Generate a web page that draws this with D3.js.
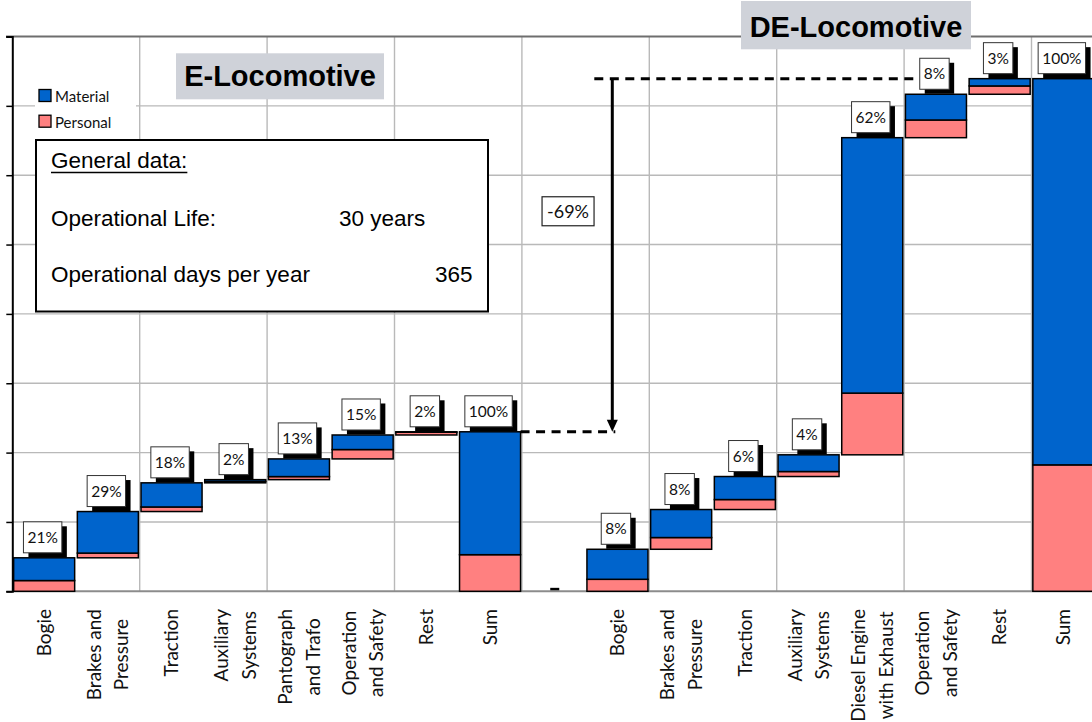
<!DOCTYPE html>
<html>
<head>
<meta charset="utf-8">
<script src="https://cdn.jsdelivr.net/npm/d3@7"></script>
<style>
  html, body { margin: 0; padding: 0; background: #ffffff; }
  svg { display: block; }
</style>
</head>
<body>
<svg id="chart" width="1092" height="722"></svg>
<script>
// ---- Data ---------------------------------------------------------------
const eCategories = ["Bogie", "Brakes and\nPressure", "Traction", "Auxiliary\nSystems",
                     "Pantograph\nand Trafo", "Operation\nand Safety", "Rest"];
const eMaterial   = [3.28, 5.99, 3.48, 0.26, 2.55, 2.10, 0.06];
const ePersonal   = [1.55, 0.68, 0.66, 0.20, 0.44, 1.35, 0.40];

const deCategories = ["Bogie", "Brakes and\nPressure", "Traction", "Auxiliary\nSystems",
                      "Diesel Engine\nwith Exhaust", "Operation\nand Safety", "Rest"];
const deMaterial   = [4.33, 4.04, 3.32, 2.41, 36.83, 3.71, 1.05];
const dePersonal   = [1.73, 1.69, 1.44, 0.72, 8.90, 2.55, 1.20];

const sumLabel    = "Sum";
const seriesNames = ["Material", "Personal"];
const seriesColors = ["#0064CC", "#FF8080"];
const yTicks      = [0, 10, 20, 30, 40, 50, 60, 70, 80];
const gapMarker   = [0.5];

const titleE  = "E-Locomotive";
const titleDE = "DE-Locomotive";
const generalTitle = "General data:";
const generalRows  = [["Operational Life:", "30 years"], ["Operational days per year", "365"]];

// ---- Layout -------------------------------------------------------------
const svg = d3.select("#chart");
const plotLeft = 12.3, plotTop = 36.5, plotBottom = 591.3, catStep = 63.7;
const uiFont = "Lato, 'Open Sans', sans-serif";
const boxFont = "'Liberation Sans', Arial, sans-serif";

const keys = [
  ...eCategories.map((c, i) => "E" + i), "ESum", "gap",
  ...deCategories.map((c, i) => "D" + i), "DSum"
];
const x = d3.scaleBand()
  .domain(keys)
  .range([plotLeft, plotLeft + keys.length * catStep])
  .paddingInner(0.042)
  .paddingOuter(0.021);
const y = d3.scaleLinear().domain([0, 80]).range([plotBottom, plotTop]);
const step = x.step();
const boundary = k => x.range()[0] + step * k;
const center = key => x(key) + x.bandwidth() / 2;

// Waterfall rows: each component floats on the running total
function waterfall(prefix, cats, mat, pers) {
  const total = d3.sum(mat) + d3.sum(pers);
  let base = 0;
  const rows = cats.map((c, i) => {
    const r = { key: prefix + i, label: c, base, mat: mat[i], pers: pers[i],
                pct: Math.round(100 * (mat[i] + pers[i]) / total) + "%" };
    base += mat[i] + pers[i];
    return r;
  });
  rows.push({ key: prefix + "Sum", label: sumLabel, base: 0,
              mat: d3.sum(mat), pers: d3.sum(pers), pct: "100%" });
  return { rows, total };
}
const E  = waterfall("E", eCategories, eMaterial, ePersonal);
const DE = waterfall("D", deCategories, deMaterial, dePersonal);
const allRows = [...E.rows, ...DE.rows];

// ---- Grid ---------------------------------------------------------------
const grid = svg.append("g");
grid.selectAll("line.h").data(yTicks.filter(v => v > 0 && v < 80)).join("line")
  .attr("x1", plotLeft).attr("x2", 1092)
  .attr("y1", d => y(d)).attr("y2", d => y(d))
  .attr("stroke", "#b9b9b9").attr("stroke-width", 1.4);
grid.selectAll("line.v").data(d3.range(2, keys.length, 2)).join("line")
  .attr("x1", d => boundary(d)).attr("x2", d => boundary(d))
  .attr("y1", plotTop).attr("y2", plotBottom)
  .attr("stroke", "#b9b9b9").attr("stroke-width", 1.4);

// plot frame: top edge, bottom axis, left axis with ticks
svg.append("line").attr("x1", 6).attr("x2", 1092).attr("y1", y(80)).attr("y2", y(80))
  .attr("stroke", "#6e6e6e").attr("stroke-width", 2);
svg.append("line").attr("x1", plotLeft).attr("x2", 1092).attr("y1", y(0)).attr("y2", y(0))
  .attr("stroke", "#8c8c8c").attr("stroke-width", 2);
const yAxis = d3.axisLeft(y).tickValues(yTicks).tickSize(6).tickFormat("");
const yAx = svg.append("g").attr("transform", `translate(${plotLeft},0)`).call(yAxis);
yAx.select(".domain").attr("stroke", "#000").attr("stroke-width", 2);
yAx.selectAll(".tick line").attr("stroke", "#000").attr("stroke-width", 1.5);

// ---- Bars ---------------------------------------------------------------
const bars = svg.append("g");
allRows.forEach(r => {
  const segs = [
    { v0: r.base, v1: r.base + r.pers, color: seriesColors[1] },
    { v0: r.base + r.pers, v1: r.base + r.pers + r.mat, color: seriesColors[0] }
  ];
  bars.selectAll(null).data(segs).enter().append("rect")
    .attr("x", x(r.key)).attr("width", x.bandwidth())
    .attr("y", d => y(d.v1)).attr("height", d => y(d.v0) - y(d.v1))
    .attr("fill", d => d.color)
    .attr("stroke", "#000").attr("stroke-width", 1.5);
});

// small marker in the gap column
bars.selectAll("rect.gap").data(gapMarker).join("rect")
  .attr("x", center("gap") - 3.5).attr("width", 9)
  .attr("y", d => y(d)).attr("height", d => y(0) - y(d) - 1)
  .attr("fill", "#000");

// ---- Percentage labels with drop shadow ---------------------------------
const labels = svg.append("g");
allRows.forEach(r => {
  const top = y(r.base + r.pers + r.mat);
  const g = labels.append("g")
    .attr("transform", `translate(${center(r.key) - 1.5},${top - 5})`);
  const t = g.append("text")
    .attr("text-anchor", "middle")
    .attr("y", -15.5).attr("dy", "0.36em")
    .attr("font-family", uiFont).attr("font-size", 15.5).attr("fill", "#111")
    .text(r.pct);
  const w = t.node().getComputedTextLength() + 8;
  g.insert("rect", "text").attr("x", -w / 2 + 5).attr("y", -31 + 4.5)
    .attr("width", w).attr("height", 31).attr("fill", "#000");
  g.insert("rect", "text").attr("x", -w / 2).attr("y", -31)
    .attr("width", w).attr("height", 31)
    .attr("fill", "#fff").attr("stroke", "#333").attr("stroke-width", 1);
});

// ---- Category labels (rotated, multi-line) ------------------------------
const catLabels = svg.append("g");
allRows.forEach(r => {
  const lines = r.label.split("\n");
  const g = catLabels.append("g")
    .attr("transform", `translate(${center(r.key)},609) rotate(-90)`);
  const texts = lines.map((ln, k) => g.append("text")
    .attr("y", (k - (lines.length - 1) / 2) * 27.5)
    .attr("dy", "0.36em")
    .attr("font-family", uiFont).attr("font-size", 19).attr("fill", "#111")
    .text(ln));
  const maxLen = d3.max(texts, t => t.node().getComputedTextLength());
  texts.forEach(t => t.attr("text-anchor", "middle").attr("x", -maxLen / 2));
});

// ---- Legend -------------------------------------------------------------
const legend = svg.append("g");
legend.append("rect").attr("x", 35).attr("y", 82).attr("width", 101).attr("height", 54)
  .attr("fill", "#fff");
seriesNames.forEach((name, i) => {
  legend.append("rect").attr("x", 39).attr("y", 89.5 + i * 25.7)
    .attr("width", 12).attr("height", 12)
    .attr("fill", seriesColors[i]).attr("stroke", "#000").attr("stroke-width", 1.3);
  legend.append("text").attr("x", 55).attr("y", 102 + i * 25.7)
    .attr("font-family", uiFont).attr("font-size", 15).attr("fill", "#111")
    .text(name);
});

// ---- Titles -------------------------------------------------------------
function titleBox(text, cx, y0, w, h, baseline) {
  const g = svg.append("g");
  g.append("rect").attr("x", cx - w / 2).attr("y", y0).attr("width", w).attr("height", h)
    .attr("fill", "#cfd2d9");
  g.append("text").attr("x", cx).attr("y", baseline).attr("text-anchor", "middle")
    .attr("font-family", boxFont).attr("font-weight", "bold").attr("font-size", 29)
    .attr("fill", "#000").text(text);
}
titleBox(titleE, 280, 53.3, 208, 46, 86);
titleBox(titleDE, 856, 1, 230, 48.3, 36.7);

// ---- General data box ---------------------------------------------------
const info = svg.append("g");
info.append("rect").attr("x", 36).attr("y", 140).attr("width", 452).attr("height", 171.5)
  .attr("fill", "#fff").attr("stroke", "#000").attr("stroke-width", 2);
const gt = info.append("text").attr("x", 51).attr("y", 168)
  .attr("font-family", boxFont).attr("font-size", 22.5).attr("fill", "#000")
  .text(generalTitle);
const gtw = gt.node().getComputedTextLength();
info.append("line").attr("x1", 51).attr("x2", 51 + gtw).attr("y1", 172.5).attr("y2", 172.5)
  .attr("stroke", "#000").attr("stroke-width", 1.6);
generalRows.forEach((row, i) => {
  const by = 225.5 + i * 56;
  info.append("text").attr("x", 51).attr("y", by)
    .attr("font-family", boxFont).attr("font-size", 22.5).attr("fill", "#000").text(row[0]);
  info.append("text")
    .attr("x", i === 0 ? 339 : 472.5).attr("text-anchor", i === 0 ? "start" : "end")
    .attr("y", by)
    .attr("font-family", boxFont).attr("font-size", 22.5).attr("fill", "#000").text(row[1]);
});

// ---- Difference annotation ----------------------------------------------
const ann = svg.append("g");
const yE = y(E.total), yDE = y(DE.total);
const ax = boundary(9) + 26.7;
ann.append("line").attr("x1", ax - 18).attr("x2", boundary(14) + 10)
  .attr("y1", yDE).attr("y2", yDE)
  .attr("stroke", "#000").attr("stroke-width", 3).attr("stroke-dasharray", "9,6.5");
ann.append("line").attr("x1", x("ESum") + x.bandwidth()).attr("x2", ax + 3)
  .attr("y1", yE).attr("y2", yE)
  .attr("stroke", "#000").attr("stroke-width", 3).attr("stroke-dasharray", "9,6.5");
ann.append("line").attr("x1", ax).attr("x2", ax).attr("y1", yDE).attr("y2", yE - 8)
  .attr("stroke", "#000").attr("stroke-width", 3);
ann.append("path")
  .attr("d", `M${ax - 5.5},${yE - 12} L${ax + 5.5},${yE - 12} L${ax},${yE} Z`)
  .attr("fill", "#000");

const diffText = Math.round((E.total / DE.total - 1) * 100) + "%";
const dg = ann.append("g").attr("transform", `translate(${center("gap") + 14.3},${y(54.8)})`);
const dt = dg.append("text").attr("text-anchor", "middle").attr("dy", "0.36em")
  .attr("font-family", uiFont).attr("font-size", 18).attr("fill", "#111").text(diffText);
const dw = dt.node().getComputedTextLength() + 10;
dg.insert("rect", "text").attr("x", -dw / 2).attr("y", -14.5).attr("width", dw).attr("height", 29)
  .attr("fill", "#fff").attr("stroke", "#222").attr("stroke-width", 1.2);
</script>
</body>
</html>
